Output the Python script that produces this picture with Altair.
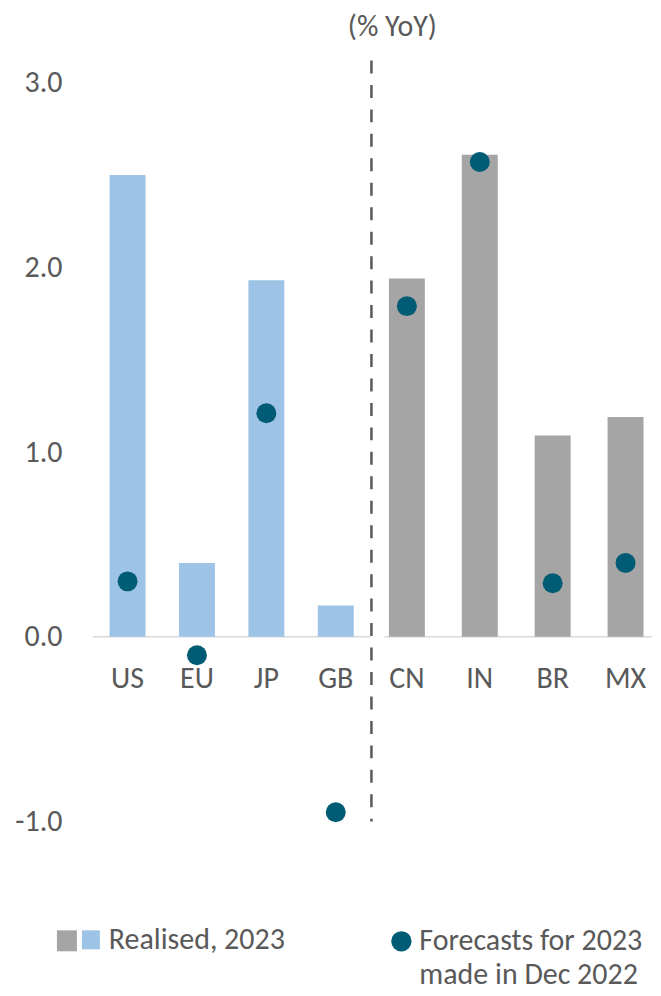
import altair as alt
import pandas as pd

adv = ["US", "EU", "JP", "GB"]
adv_real = [2.50, 0.40, 1.93, 0.17]
adv_fc = [0.30, -0.10, 1.21, -0.95]
em = ["CN", "IN", "BR", "MX"]
em_real = [1.94, 2.61, 1.09, 1.19]
em_fc = [1.79, 2.57, 0.29, 0.40]
ticks = [-1.0, 0.0, 1.0, 2.0, 3.0]
unit_label = "(% YoY)"
legend_real = "Realised, 2023"
legend_fc = ["Forecasts for 2023", "made in Dec 2022"]

FONT = "Carlito, Calibri, Lato, sans-serif"
FS = 30
TEXT = "#595959"
BLUE = "#9DC3E6"
GREY = "#A5A5A5"
DOT = "#005B74"
H = 765
YDOM = [-1.0, 3.135]
DASH_TOP = 3.12


def panel(cats, real, fc, color, width, band_range, left):
    df = pd.DataFrame({"c": cats, "real": real, "fc": fc})
    x = alt.X("c:N", sort=cats,
              scale=alt.Scale(paddingInner=0, paddingOuter=0, range=[0, band_range]), axis=None)
    if left:
        yaxis = alt.Axis(values=ticks, format=".1f", domain=False, ticks=False, grid=False,
                         labelExpr="replace(datum.label, '\u2212', '-')",
                         labelPadding=31, labelFontSize=FS, labelColor=TEXT, labelFont=FONT,
                         title=None)
    else:
        yaxis = alt.Axis(labels=False, domain=False, ticks=False, grid=False, title=None)
    ysc = alt.Scale(domain=YDOM, nice=False, zero=False)
    base = alt.Chart(df)
    zero = alt.Chart(pd.DataFrame({"v": [0.0]})).mark_rule(color="#D9D9D9", strokeWidth=1.5).encode(
        y=alt.Y("v:Q", scale=ysc, axis=yaxis),
        x=alt.value(0 if left else 14), x2=alt.value(width))
    bars = base.mark_bar(color=color, size=36).encode(
        x=x, y=alt.Y("real:Q", scale=ysc, axis=yaxis), y2=alt.datum(0))
    dots = base.mark_circle(size=400, color=DOT, opacity=1).encode(
        x=x, y=alt.Y("fc:Q", scale=ysc, axis=yaxis))
    labels = base.mark_text(dy=42, fontSize=FS, color=TEXT, font=FONT).encode(
        x=x, y=alt.datum(0), text="c:N")
    layers = [zero, bars, dots, labels]
    if left:
        leg = alt.Chart(pd.DataFrame({"t": [legend_real]}))
        layers.append(leg.mark_rect(color=GREY).encode(
            x=alt.value(-36), x2=alt.value(-16), y=alt.value(874), y2=alt.value(895)))
        layers.append(leg.mark_rect(color=BLUE).encode(
            x=alt.value(-11), x2=alt.value(7), y=alt.value(874), y2=alt.value(893)))
        layers.append(leg.mark_text(align="left", baseline="middle", fontSize=FS, color=TEXT, font=FONT).encode(
            x=alt.value(16), y=alt.value(884), text="t:N"))
    else:
        dash = alt.Chart(pd.DataFrame({"top": [DASH_TOP], "v": [-1.0]})).mark_rule(
            color="#595959", strokeWidth=2.5, strokeDash=[13, 11.5]).encode(
            x=alt.value(1), y=alt.Y("top:Q", scale=ysc, axis=yaxis), y2=alt.Y2("v:Q"))
        layers.append(dash)
        layers.append(alt.Chart(pd.DataFrame({"t": [unit_label]})).mark_text(
            align="center", baseline="middle", fontSize=FS, color=TEXT, font=FONT).encode(
            x=alt.value(22), y=alt.value(-31), text="t:N"))
        layers.append(alt.Chart(pd.DataFrame({"t": ["f"]})).mark_circle(size=415, color=DOT, opacity=1).encode(
            x=alt.value(31), y=alt.value(885)))
        layers.append(alt.Chart(pd.DataFrame({"t": ["f"]})).mark_text(
            align="left", baseline="top", fontSize=FS, lineHeight=34, color=TEXT, font=FONT).encode(
            x=alt.value(49), y=alt.value(870), text=alt.value(legend_fc)))
    return alt.layer(*layers).properties(width=width, height=H)


left = panel(adv, adv_real, adv_fc, BLUE, 278, 278, True)
right = panel(em, em_real, em_fc, GREY, 282, 292, False)

chart = alt.hconcat(left, right, spacing=0, bounds="flush").properties(
    padding={"left": 6, "top": 3, "right": 0, "bottom": -1}
).configure_view(stroke=None)

chart.save("out.html", embed_options={"renderer": "svg", "actions": False})
